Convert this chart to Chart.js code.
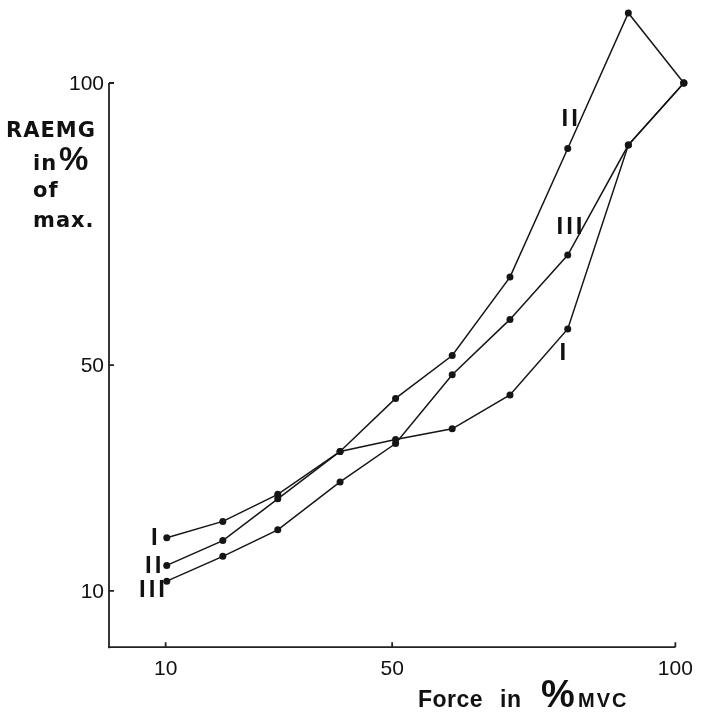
<!DOCTYPE html>
<html>
<head>
<meta charset="utf-8">
<script src="https://cdn.jsdelivr.net/npm/chart.js@4/dist/chart.umd.min.js"></script>
<style>
html,body{margin:0;padding:0;background:#fff;}
canvas{display:block;}
</style>
</head>
<body>
<canvas id="c" width="702" height="714" style="width:702px;height:714px"></canvas>
<script>
// Force in % MVC (x) shared by all series
const forceValues = [10.2, 20.1, 29.8, 40.8, 50.6, 60.6, 70.8, 81.0, 91.7, 101.5];
// RAEMG in % of max (y)
const seriesI   = [19.4, 22.3, 27.1, 34.7, 36.8, 38.7, 44.7, 56.4, 89.0, 100];
const seriesII  = [14.5, 18.9, 26.3, 34.7, 44.1, 51.7, 65.6, 88.4, 112.4, 100];
const seriesIII = [11.7, 16.1, 20.8, 29.3, 36.1, 48.3, 58.1, 69.5, 89.0, 100];
const seriesNames = ['I', 'II', 'III'];
const xTicks = [10, 50, 100];
const yTicks = [10, 50, 100];

function pts(ys){ return ys.map((y,i)=>({x:forceValues[i], y:y})); }

const ds = (label, ys) => ({
  label: label,
  data: pts(ys),
  borderColor: '#151515',
  backgroundColor: '#151515',
  borderWidth: 1.5,
  pointRadius: 3.5,
  pointBorderWidth: 0,
  pointBackgroundColor: '#151515',
  tension: 0,
  clip: false,
  fill: false
});

const axesPlugin = {
  id: 'axesPlugin',
  beforeDatasetsDraw(chart){
    const ctx = chart.ctx, xs = chart.scales.x, ys = chart.scales.y;
    const x0 = xs.getPixelForValue(0), y0 = ys.getPixelForValue(0);
    ctx.save();
    ctx.strokeStyle = '#222';
    ctx.lineWidth = 1.8;
    ctx.beginPath();
    ctx.moveTo(x0, y0 + 1);
    ctx.lineTo(x0, ys.getPixelForValue(100));
    ctx.moveTo(x0 - 1, y0);
    ctx.lineTo(xs.getPixelForValue(100), y0);
    yTicks.forEach(v=>{ const p = ys.getPixelForValue(v); ctx.moveTo(x0, p); ctx.lineTo(x0 + 5, p); });
    xTicks.forEach(v=>{ const p = xs.getPixelForValue(v); ctx.moveTo(p, y0); ctx.lineTo(p, y0 - 5); });
    ctx.stroke();
    ctx.restore();
  },
  afterDatasetsDraw(chart){
    const ctx = chart.ctx, xs = chart.scales.x, ys = chart.scales.y;
    const x0 = xs.getPixelForValue(0), y0 = ys.getPixelForValue(0);
    ctx.save();
    ctx.fillStyle = '#111';
    // tick labels
    ctx.font = '21px "Liberation Sans", Arial, sans-serif';
    ctx.textAlign = 'right'; ctx.textBaseline = 'middle';
    yTicks.forEach(v=>ctx.fillText(String(v), x0 - 5, ys.getPixelForValue(v) + 1));
    ctx.textAlign = 'center'; ctx.textBaseline = 'middle';
    xTicks.forEach(v=>ctx.fillText(String(v), xs.getPixelForValue(v), y0 + 22));
    // y title
    ctx.textAlign = 'left'; ctx.textBaseline = 'alphabetic';
    ctx.letterSpacing = '1px';
    ctx.font = 'bold 21px "DejaVu Sans", sans-serif';
    ctx.fillText('RAEMG', 6, 137);
    ctx.fillText('in', 33, 170);
    ctx.fillText('of', 33, 197);
    ctx.fillText('max.', 33, 227);
    ctx.letterSpacing = '0px';
    ctx.font = 'bold 33px "Liberation Sans", Arial, sans-serif';
    ctx.fillText('%', 59, 170);
    // x title
    ctx.letterSpacing = '0.5px';
    ctx.font = 'bold 23px "Liberation Sans", Arial, sans-serif';
    ctx.fillText('Force', 418, 707);
    ctx.fillText('in', 500, 707);
    ctx.letterSpacing = '0px';
    ctx.font = 'bold 38px "Liberation Sans", Arial, sans-serif';
    ctx.fillText('%', 541, 707);
    ctx.letterSpacing = '2px';
    ctx.font = 'bold 20px "Liberation Sans", Arial, sans-serif';
    ctx.fillText('MVC', 578, 707);
    // series labels
    ctx.letterSpacing = '3px';
    ctx.font = 'bold 24px "Liberation Sans", Arial, sans-serif';
    const lab = [
      [seriesNames[0], 151, 545], [seriesNames[1], 145, 573], [seriesNames[2], 139, 597],
      [seriesNames[1], 561.5, 126], [seriesNames[2], 556.5, 234], [seriesNames[0], 559.5, 360]
    ];
    lab.forEach(l=>ctx.fillText(l[0], l[1], l[2]));
    ctx.restore();
  }
};

new Chart(document.getElementById('c'), {
  type: 'line',
  data: { datasets: [ds(seriesNames[0], seriesI), ds(seriesNames[1], seriesII), ds(seriesNames[2], seriesIII)] },
  options: {
    responsive: false,
    devicePixelRatio: 1,
    animation: false,
    layout: { padding: { left: 109, right: 1, top: 0.8, bottom: 66.8 } },
    plugins: { legend: { display: false }, title: { display: false }, tooltip: { enabled: false } },
    scales: {
      x: { type: 'linear', min: 0, max: 104, display: false },
      y: { type: 'linear', min: 0, max: 114, display: false }
    }
  },
  plugins: [axesPlugin]
});
</script>
</body>
</html>
